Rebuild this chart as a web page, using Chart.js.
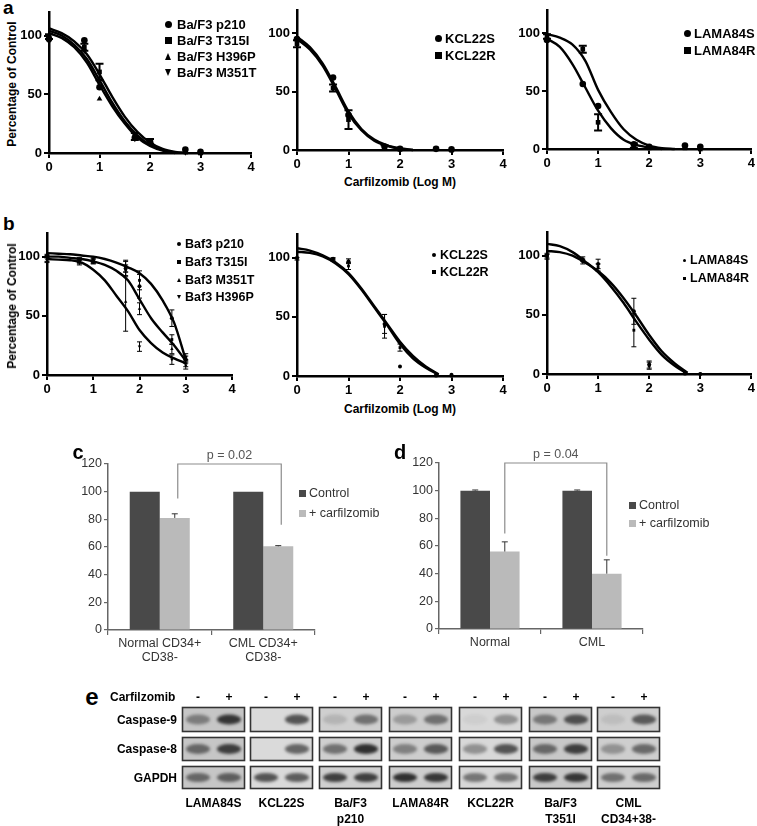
<!DOCTYPE html>
<html>
<head>
<meta charset="utf-8">
<script src="https://cdn.jsdelivr.net/npm/chart.js@4.4.0/dist/chart.umd.min.js"></script>
<style>
  body { margin: 0; background: #fff; }
  #fig { position: relative; width: 757px; height: 826px; overflow: hidden; background: #fff;
         font-family: "Liberation Sans", Arial, sans-serif; }
  canvas { position: absolute; }
  .t { position: absolute; white-space: nowrap; line-height: 1; color: #000; }
  .mk { position: absolute; }
</style>
</head>
<body>
<div id="fig"></div>
<script>
const FONT = '"Liberation Sans", Arial, sans-serif';

// ---- dose-response data (x = Carfilzomib, log M) ----
const doseX = [0, 0.7, 1, 1.7, 2, 2.7, 3];
const fitXa = [0, 0.25, 0.5, 0.75, 1, 1.25, 1.5, 1.75, 2, 2.25, 2.5, 2.75];
const fitXb = [0, 0.25, 0.5, 0.75, 1, 1.25, 1.5, 1.75, 2, 2.25, 2.5, 2.75, 3];

// panel a, Ba/F3 lines
const a1Names = ["Ba/F3 p210", "Ba/F3 T315I", "Ba/F3 H396P", "Ba/F3 M351T"];
const a1Vals = [
  [97, 96, 56, 13, 10, 3, 1],
  [99, 90, 69, 14, 10, 1, 0],
  [100, 88, 46, 14, 9, 1, 0],
  [95, 87, 62, 12, 8, 0.5, 0]
];
const a1Errs = [
  [0, 0, 0, 0, 0, 0, 0],
  [2, 3, 7, 3, 2, 0, 0],
  [0, 0, 0, 0, 0, 0, 0],
  [0, 0, 0, 0, 0, 0, 0]
];
const a1Fits = [
  [106, 102, 95, 84, 67, 48, 31, 18, 9, 3.5, 1, 0],
  [104, 100, 92, 80, 62, 43, 27, 15, 7, 2.5, 0.5, 0],
  [102, 98, 90, 77, 58, 40, 25, 13, 6, 2, 0, null]
];

// panel a, KCL22
const a2Names = ["KCL22S", "KCL22R"];
const a2Vals = [
  [95, 62, 30, 3, 1, 1, 0.5],
  [91, 53, 26, 2, 1, 1, 0]
];
const a2Errs = [
  [0, 0, 0, 0, 0, 0, 0],
  [3, 3, 8, 2, 0, 0, 0]
];
const a2Fits = [
  [97, 88, 74, 54, 33, 18, 9, 4, 1.5, 0, null, null],
  [95, 86, 72, 52, 31, 17, 8, 3.5, 1, 0, null, null]
];

// panel a, LAMA84
const a3Names = ["LAMA84S", "LAMA84R"];
const a3Vals = [
  [94, 56, 37, 4, 2, 3, 2],
  [97, 86, 23, 3, 1, 1, 0]
];
const a3Errs = [
  [0, 0, 0, 0, 0, 0, 0],
  [2, 3, 7, 2, 0, 0, 0]
];
const a3Fits = [
  [99, 96, 90, 76, 51, 32, 17, 8, 3, 0.8, 0, null],
  [95, 88, 73, 53, 33, 18, 8, 3.5, 1.2, 0, null, null]
];

// panel b, Baf3 lines
const b1Names = ["Baf3 p210", "Baf3 T315I", "Baf3 M351T", "Baf3 H396P"];
const b1Vals = [
  [100, 97, 96, 90, 75, 48, 13],
  [101, 97, 98, 92, 80, 30, 15],
  [98, 96, 97, 62, 56, 22, 10],
  [97, 95, 96, 88, 24, 13, 8]
];
const b1Errs = [
  [1, 2, 2, 6, 10, 7, 3],
  [1, 2, 2, 5, 8, 4, 3],
  [2, 2, 2, 25, 5, 4, 3],
  [2, 2, 2, 5, 4, 4, 3]
];
const b1Fits = [
  [103, 102.5, 102, 101, 100, 98, 95, 91, 86, 77, 63, 44, 13],
  [100, 100, 99, 98, 96, 93, 88, 80, 64, 48, 36, 25, 12],
  [98, 97.5, 97, 95, 89, 80, 67, 54, 38, 27, 19, 14, 10]
];

// panel b, KCL22
const b2Names = ["KCL22S", "KCL22R"];
const b2Vals = [
  [100, 99, 97, 44, 8, 1, 1],
  [99, 98, 93, 42, 24, 0, 0]
];
const b2Errs = [
  [0, 1, 2, 8, 0, 0, 0],
  [1, 1, 3, 10, 3, 0, 0]
];
const b2Fits = [
  [108, 106, 102, 96, 87, 74, 59, 44, 29, 17, 8, 1.5, null],
  [105, 104, 101, 95, 86, 73, 58, 43, 27, 15, 7, 1, null]
];

// panel b, LAMA84
const b3Names = ["LAMA84S", "LAMA84R"];
const b3Vals = [
  [100, 97, 93, 53, 8, 1, 0],
  [99, 95, 90, 37, 7, 0, 0]
];
const b3Errs = [
  [2, 2, 4, 11, 3, 0, 0],
  [2, 2, 3, 14, 3, 0, 0]
];
const b3Fits = [
  [110, 108, 103, 95, 86, 74, 60, 44, 29, 16, 7, 0, null],
  [104, 103, 100, 94, 87, 77, 64, 49, 33, 19, 9, 1, null]
];

// ---- bar panels c, d ----
const barSeries = ["Control", "+ carfilzomib"];
const cLabels = [["Normal CD34+", "CD38-"], ["CML CD34+", "CD38-"]];
const cControl = [100, 100];
const cCarf = [81, 60.5];
const cCarfErr = [3, 0.5];
const dLabels = ["Normal", "CML"];
const dControl = [100, 100];
const dControlErr = [0.5, 0.5];
const dCarf = [56, 40];
const dCarfErr = [7, 10];

// ---- western blot (band darkness 0..1; [minus, plus]) ----
const blotRows = ["Caspase-9", "Caspase-8", "GAPDH"];
const blotLanes = [["LAMA84S"], ["KCL22S"], ["Ba/F3", "p210"], ["LAMA84R"], ["KCL22R"], ["Ba/F3", "T351I"], ["CML", "CD34+38-"]];
const blotCasp9 = [[0.45, 0.9], [0, 0.75], [0.15, 0.55], [0.3, 0.55], [0.05, 0.4], [0.5, 0.75], [0.1, 0.7]];
const blotCasp8 = [[0.6, 0.85], [0, 0.65], [0.55, 0.95], [0.45, 0.7], [0.4, 0.75], [0.6, 0.85], [0.35, 0.6]];
const blotGapdh = [[0.6, 0.65], [0.75, 0.7], [0.85, 0.85], [0.95, 0.9], [0.55, 0.55], [0.85, 0.9], [0.55, 0.6]];
const blotBg = ["#c6c6c6", "#dadada", "#cfcfcf", "#cdcdcd", "#d8d8d8", "#c8c8c8", "#cecece"];

const fig = document.getElementById('fig');

// Error bars drawn through the chart's own y scale.
const errorBars = {
  id: 'errorBars',
  afterDatasetsDraw(chart) {
    const ctx = chart.ctx, yScale = chart.scales.y;
    chart.data.datasets.forEach((ds, i) => {
      if (!ds.errors) return;
      const meta = chart.getDatasetMeta(i);
      ctx.save();
      ctx.strokeStyle = ds.errorColor || '#000';
      ctx.lineWidth = ds.errorWidth || 1;
      meta.data.forEach((el, j) => {
        const e = ds.errors[j];
        if (!e) return;
        const raw = ds.data[j];
        const v = (raw && typeof raw === 'object') ? raw.y : raw;
        const yTop = yScale.getPixelForValue(v + e);
        const yBot = ds.errorUpOnly ? el.y : yScale.getPixelForValue(Math.max(0, v - e));
        const cap = ds.errorCap || 3;
        ctx.beginPath();
        ctx.moveTo(el.x, yBot); ctx.lineTo(el.x, yTop);
        ctx.moveTo(el.x - cap, yTop); ctx.lineTo(el.x + cap, yTop);
        if (!ds.errorUpOnly) { ctx.moveTo(el.x - cap, yBot); ctx.lineTo(el.x + cap, yBot); }
        ctx.stroke();
      });
      ctx.restore();
    });
  }
};

// Significance bracket above the carfilzomib bars.
const bracket = {
  id: 'bracket',
  afterDraw(chart, args, opts) {
    if (!opts || !opts.text) return;
    const ctx = chart.ctx, y = chart.scales.y;
    const meta = chart.getDatasetMeta(opts.dataset);
    const x1 = meta.data[0].x + opts.shift, x2 = meta.data[1].x + opts.shift;
    const yt = y.getPixelForValue(opts.top);
    ctx.save();
    ctx.strokeStyle = '#8c8c8c';
    ctx.lineWidth = 1.2;
    ctx.beginPath();
    ctx.moveTo(x1, y.getPixelForValue(opts.leftEnd));
    ctx.lineTo(x1, yt); ctx.lineTo(x2, yt);
    ctx.lineTo(x2, y.getPixelForValue(opts.rightEnd));
    ctx.stroke();
    ctx.fillStyle = '#555';
    ctx.font = '12.5px ' + FONT;
    ctx.textAlign = 'center';
    ctx.textBaseline = 'bottom';
    ctx.fillText(opts.text, (x1 + x2) / 2, yt - 2);
    ctx.restore();
  }
};

Chart.register(errorBars, bracket);

function addText(txt, x, y, font, align, extra) {
  const d = document.createElement('div');
  d.className = 't';
  d.textContent = txt;
  d.style.left = x + 'px';
  d.style.top = y + 'px';
  d.style.font = font;
  const tx = align === 'center' ? '-50%' : align === 'right' ? '-100%' : '0';
  d.style.transform = `translate(${tx}, -50%)` + (extra || '');
  if (extra) d.style.transformOrigin = '0 0';
  fig.appendChild(d);
  return d;
}

function addYTitle(txt, cx, cy) {
  const d = document.createElement('div');
  d.className = 't';
  d.textContent = txt;
  d.style.font = 'bold 12px ' + FONT;
  d.style.left = cx + 'px';
  d.style.top = cy + 'px';
  d.style.transform = 'translate(-50%, -50%) rotate(-90deg)';
  fig.appendChild(d);
}

function addMarker(style, x, y, s) {
  const m = document.createElement('div');
  m.className = 'mk';
  if (style === 'circle' || style === 'rect') {
    m.style.width = s + 'px'; m.style.height = s + 'px';
    m.style.background = '#000';
    if (style === 'circle') m.style.borderRadius = '50%';
    m.style.left = (x - s / 2) + 'px'; m.style.top = (y - s / 2) + 'px';
  } else {
    const h = s * 0.5;
    m.style.width = '0'; m.style.height = '0';
    m.style.borderLeft = h + 'px solid transparent';
    m.style.borderRight = h + 'px solid transparent';
    if (style === 'triangle') m.style.borderBottom = s + 'px solid #000';
    else m.style.borderTop = s + 'px solid #000';
    m.style.left = (x - h) + 'px'; m.style.top = (y - s / 2) + 'px';
  }
  fig.appendChild(m);
}

function makeCanvas(left, top, w, h) {
  const c = document.createElement('canvas');
  c.width = w; c.height = h;
  c.style.left = left + 'px'; c.style.top = top + 'px';
  c.style.width = w + 'px'; c.style.height = h + 'px';
  fig.appendChild(c);
  return c;
}

const styleMap = {
  circle: { pointStyle: 'circle', rotation: 0 },
  rect: { pointStyle: 'rect', rotation: 0 },
  triangle: { pointStyle: 'triangle', rotation: 0 },
  triangleDown: { pointStyle: 'triangle', rotation: 180 }
};

// box = canvas rectangle, area = plot area in page pixels
function curvePanel(box, area, fitX, fits, vals, errs, styles, small) {
  const canvas = makeCanvas(box.l, box.t, box.w, box.h);
  const datasets = [];
  fits.forEach(f => {
    datasets.push({
      data: fitX.map((x, i) => ({ x, y: f[i] })),
      showLine: true, pointRadius: 0, borderColor: '#000', borderWidth: 2.4,
      tension: 0.4, cubicInterpolationMode: 'monotone', spanGaps: false, clip: false
    });
  });
  vals.forEach((v, k) => {
    const st = styleMap[styles[k]];
    datasets.push({
      data: doseX.map((x, i) => ({ x, y: v[i] })),
      showLine: false, pointStyle: st.pointStyle, rotation: st.rotation,
      pointRadius: small ? 2 : 3.3, backgroundColor: '#000', borderColor: '#000', borderWidth: 0,
      errors: errs[k], errorWidth: small ? 1 : 2, errorCap: small ? 2.5 : 4, clip: false
    });
  });
  const yw = area.l - box.l, xh = box.t + box.h - area.b;
  const tickFont = { family: FONT, size: 13, weight: 'bold' };
  new Chart(canvas, {
    type: 'scatter',
    data: { datasets },
    options: {
      responsive: false, animation: false,
      layout: { padding: { top: area.t - box.t, right: box.l + box.w - area.r, left: 0, bottom: 0 } },
      plugins: { legend: { display: false }, tooltip: { enabled: false } },
      scales: {
        x: {
          type: 'linear', min: 0, max: 4,
          afterFit: s => { s.height = xh; },
          grid: { display: true, drawOnChartArea: false, tickLength: 5, color: '#000', lineWidth: 2 },
          border: { display: true, color: '#000', width: 2.5 },
          ticks: { stepSize: 1, color: '#000', font: tickFont, padding: 2, maxRotation: 0 }
        },
        y: {
          type: 'linear', min: 0, max: 120,
          afterFit: s => { s.width = yw; },
          afterBuildTicks: s => { s.ticks = s.ticks.filter(t => t.value % 50 === 0); },
          grid: { display: true, drawOnChartArea: false, tickLength: 5, color: '#000', lineWidth: 2 },
          border: { display: true, color: '#000', width: 2.5 },
          ticks: { stepSize: 50, color: '#000', font: tickFont, padding: 2 }
        }
      }
    }
  });
}

function legend(names, styles, mx, tx, ys, size, fontSize) {
  names.forEach((n, i) => {
    addMarker(styles[i], mx, ys[i], size);
    addText(n, tx, ys[i], `bold ${fontSize}px ${FONT}`, 'left');
  });
}

// ---- panel a ----
const a1Styles = ['circle', 'rect', 'triangle', 'triangleDown'];
curvePanel({ l: 20, t: 0, w: 240, h: 176 }, { l: 49, t: 12, r: 251, b: 153 }, fitXa, a1Fits, a1Vals, a1Errs, a1Styles, false);
curvePanel({ l: 268, t: 0, w: 243, h: 173 }, { l: 297, t: 9, r: 503, b: 150 }, fitXa, a2Fits, a2Vals, a2Errs, ['circle', 'rect'], false);
curvePanel({ l: 518, t: 0, w: 239, h: 172 }, { l: 547, t: 9, r: 752, b: 149 }, fitXa, a3Fits, a3Vals, a3Errs, ['circle', 'rect'], false);
legend(a1Names, a1Styles, 168, 177, [24, 40, 56, 72], 7, 13);
legend(a2Names, ['circle', 'rect'], 438, 445, [38, 55], 7, 13);
legend(a3Names, ['circle', 'rect'], 687, 694, [33, 50], 7, 13);
addText('a', 3, 8, 'bold 19px ' + FONT, 'left');
addYTitle('Percentage of Control', 12, 84);
addText('Carfilzomib (Log M)', 400, 182, 'bold 12px ' + FONT, 'center');

// ---- panel b ----
const b1Styles = ['circle', 'rect', 'triangle', 'triangleDown'];
curvePanel({ l: 18, t: 222, w: 240, h: 176 }, { l: 47, t: 233, r: 232, b: 375 }, fitXb, b1Fits, b1Vals, b1Errs, b1Styles, true);
curvePanel({ l: 268, t: 222, w: 243, h: 177 }, { l: 297, t: 234, r: 503, b: 376 }, fitXb, b2Fits, b2Vals, b2Errs, ['circle', 'rect'], true);
curvePanel({ l: 518, t: 222, w: 239, h: 175 }, { l: 547, t: 232, r: 752, b: 374 }, fitXb, b3Fits, b3Vals, b3Errs, ['circle', 'rect'], true);
legend(b1Names, b1Styles, 179, 185, [244, 262, 280, 297], 4, 12.5);
legend(b2Names, ['circle', 'rect'], 434, 440, [255, 272], 4, 12.5);
legend(b3Names, ['circle', 'rect'], 684, 690, [260, 278], 3, 12.5);
addText('b', 3, 224, 'bold 19px ' + FONT, 'left');
addYTitle('Percentage of Control', 12, 306);
addText('Carfilzomib (Log M)', 400, 409, 'bold 12px ' + FONT, 'center');

// ---- panels c, d ----
function barPanel(box, area, labels, ctrl, ctrlErr, carf, carfErr, br) {
  const canvas = makeCanvas(box.l, box.t, box.w, box.h);
  const yw = area.l - box.l, xh = box.t + box.h - area.b;
  const f = { family: FONT, size: 12.5, lineHeight: 1.15 };
  new Chart(canvas, {
    type: 'bar',
    data: {
      labels,
      datasets: [
        { label: barSeries[0], data: ctrl, backgroundColor: '#494949', errors: ctrlErr,
          errorUpOnly: true, errorColor: '#333', errorWidth: 1, errorCap: 3 },
        { label: barSeries[1], data: carf, backgroundColor: '#bababa', errors: carfErr,
          errorUpOnly: true, errorColor: '#333', errorWidth: 1, errorCap: 3 }
      ]
    },
    options: {
      responsive: false, animation: false,
      categoryPercentage: 0.58, barPercentage: 1.0,
      layout: { padding: { top: area.t - box.t, right: box.l + box.w - area.r, left: 0, bottom: 0 } },
      plugins: { legend: { display: false }, tooltip: { enabled: false }, bracket: br },
      scales: {
        x: {
          afterFit: s => { s.height = xh; },
          grid: { display: true, drawOnChartArea: false, offset: true, tickLength: 5, color: '#666', lineWidth: 1.2 },
          border: { display: true, color: '#666', width: 1.5 },
          ticks: { color: '#333', font: f, padding: 1, maxRotation: 0 }
        },
        y: {
          min: 0, max: 120,
          afterFit: s => { s.width = yw; },
          grid: { display: true, drawOnChartArea: false, tickLength: 4, color: '#666', lineWidth: 1.2 },
          border: { display: true, color: '#666', width: 1.5 },
          ticks: { stepSize: 20, color: '#333', font: f, padding: 2 }
        }
      }
    }
  });
}

barPanel({ l: 72, t: 440, w: 253, h: 225 }, { l: 108, t: 464, r: 315, b: 630 },
  cLabels, cControl, [0, 0], cCarf, cCarfErr,
  { text: 'p = 0.02', dataset: 1, shift: 3, top: 120, leftEnd: 95, rightEnd: 76 });
barPanel({ l: 400, t: 440, w: 253, h: 225 }, { l: 439, t: 463, r: 643, b: 629 },
  dLabels, dControl, dControlErr, dCarf, dCarfErr,
  { text: 'p = 0.04', dataset: 1, shift: 0, top: 120, leftEnd: 69, rightEnd: 53 });

function barLegend(x, ys) {
  const cols = ['#494949', '#bababa'];
  barSeries.forEach((n, i) => {
    const m = document.createElement('div');
    m.className = 'mk';
    m.style.width = '7px'; m.style.height = '7px'; m.style.background = cols[i];
    m.style.left = x + 'px'; m.style.top = (ys[i] - 3.5) + 'px';
    fig.appendChild(m);
    addText(n, x + 10, ys[i], '12.5px ' + FONT, 'left').style.color = '#333';
  });
}
barLegend(299, [493, 513]);
barLegend(629, [505, 523]);
addText('c', 78, 452, 'bold 20px ' + FONT, 'center');
addText('d', 400, 452, 'bold 20px ' + FONT, 'center');

// ---- panel e: western blot ----
const boxLeft = [182, 250, 319, 389, 459, 529, 597];
const boxW = 63;
const rowTop = [707, 737, 766];
const rowH = [25, 24, 23];
const blotCanvas = makeCanvas(170, 700, 500, 96);
(function drawBlot() {
  const ctx = blotCanvas.getContext('2d');
  const ox = 170, oy = 700;
  const rows = [blotCasp9, blotCasp8, blotGapdh];
  boxLeft.forEach((bx, b) => {
    rows.forEach((r, ri) => {
      const x = bx - ox, y = rowTop[ri] - oy, h = rowH[ri];
      ctx.fillStyle = blotBg[b];
      ctx.fillRect(x, y, boxW, h);
      ctx.save();
      ctx.filter = 'blur(1.8px)';
      r[b].forEach((v, li) => {
        if (v <= 0) return;
        const cx = x + (li === 0 ? 16 : 47);
        ctx.fillStyle = `rgba(20,20,20,${(v * 0.9).toFixed(2)})`;
        ctx.beginPath();
        ctx.ellipse(cx, y + h / 2, 12, ri === 2 ? 4.5 : 5, 0, 0, Math.PI * 2);
        ctx.fill();
      });
      ctx.restore();
      ctx.strokeStyle = '#333';
      ctx.lineWidth = 1.6;
      ctx.strokeRect(x + 0.5, y + 0.5, boxW - 1, h - 1);
    });
  });
})();

addText('e', 92, 697, 'bold 24px ' + FONT, 'center');
addText('Carfilzomib', 110, 697, 'bold 12px ' + FONT, 'left');
boxLeft.forEach(bx => {
  addText('-', bx + 16, 697, 'bold 12px ' + FONT, 'center');
  addText('+', bx + 47, 697, 'bold 12px ' + FONT, 'center');
});
blotRows.forEach((r, i) => addText(r, 177, rowTop[i] + rowH[i] / 2, 'bold 12px ' + FONT, 'right'));
blotLanes.forEach((lines, i) => {
  lines.forEach((ln, k) => addText(ln, boxLeft[i] + boxW / 2, 803 + k * 16, 'bold 12px ' + FONT, 'center'));
});
</script>
</body>
</html>
